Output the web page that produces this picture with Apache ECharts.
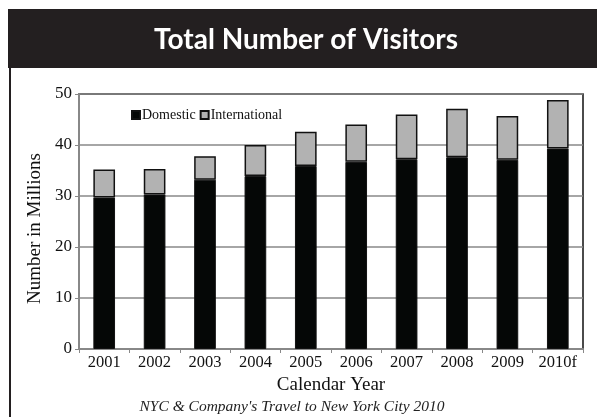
<!DOCTYPE html>
<html><head><meta charset="utf-8">
<script src="https://cdn.jsdelivr.net/npm/echarts@6/dist/echarts.min.js"></script>
<style>html,body{margin:0;padding:0;background:#fff}#c{width:597px;height:417px}</style>
</head><body><div id="c"></div>
<script>
const years = ['2001','2002','2003','2004','2005','2006','2007','2008','2009','2010f'];
const domestic = [29.7, 30.3, 33.2, 33.9, 35.9, 36.7, 37.2, 37.6, 37.1, 39.3];
const international = [5.5, 5.0, 4.6, 6.1, 6.7, 7.3, 8.8, 9.5, 8.6, 9.5];
const yTicks = [0, 10, 20, 30, 40, 50];
const serif = '"Liberation Serif", "DejaVu Serif", serif';

const chart = echarts.init(document.getElementById('c'));
chart.setOption({
  animation: false,
  title: [{
    text: 'Total Number of Visitors', left: 301, top: 21, textAlign: 'center',
    textStyle: {color: '#fff', fontSize: 28, fontWeight: 'bold', fontFamily: 'Lato, "Open Sans", sans-serif'}
  }, {
    text: "NYC & Company's Travel to New York City 2010", left: 287, top: 394, textAlign: 'center',
    textStyle: {color: '#222', fontSize: 15.5, fontStyle: 'italic', fontWeight: 'normal', fontFamily: serif}
  }],
  graphic: [
    {type: 'rect', z: -1, shape: {x: 8, y: 9, width: 589, height: 59}, style: {fill: '#231f20'}},
    {type: 'rect', shape: {x: 9, y: 68, width: 2, height: 349}, style: {fill: '#231f20'}}
  ],
  legend: {
    left: 126, top: 103, itemWidth: 8, itemHeight: 8, itemGap: 4,
    icon: 'rect',
    textStyle: {fontFamily: serif, fontSize: 14, color: '#111', padding: [0, 0, 0, -3]},
    data: ['Domestic', 'International']
  },
  grid: {left: 79, right: 14, top: 94, bottom: 68, show: true, borderColor: '#111', borderWidth: 1.5, backgroundColor: 'transparent'},
  xAxis: {
    type: 'category', data: years, name: 'Calendar Year', nameLocation: 'middle', nameGap: 25,
    nameTextStyle: {fontFamily: serif, fontSize: 19, color: '#111'},
    axisLine: {lineStyle: {color: '#888', width: 2}},
    axisTick: {show: true, length: 4, lineStyle: {color: '#888'}},
    axisLabel: {fontFamily: serif, fontSize: 16.5, color: '#111', margin: 5}
  },
  yAxis: {
    type: 'value', min: 0, max: 50, interval: 10,
    name: 'Number in Millions', nameLocation: 'middle', nameGap: 34,
    nameTextStyle: {fontFamily: serif, fontSize: 19, color: '#111', padding: [0, 14, 0, 0]},
    axisLine: {show: true, lineStyle: {color: '#888', width: 2}},
    axisTick: {show: true, length: 4, lineStyle: {color: '#888'}},
    axisLabel: {fontFamily: serif, fontSize: 17, color: '#111', margin: 7,
      formatter: v => yTicks.includes(v) ? String(v) : ''},
    splitLine: {lineStyle: {color: '#888', width: 1.5}}
  },
  series: [
    {name: 'Domestic', type: 'bar', stack: 't', data: domestic, barWidth: '43%',
     itemStyle: {color: '#050706', borderColor: '#111', borderWidth: 1}},
    {name: 'International', type: 'bar', stack: 't', data: international, barWidth: '43%',
     itemStyle: {color: '#b2b2b2', borderColor: '#111', borderWidth: 1.5}}
  ]
});
</script></body></html>
